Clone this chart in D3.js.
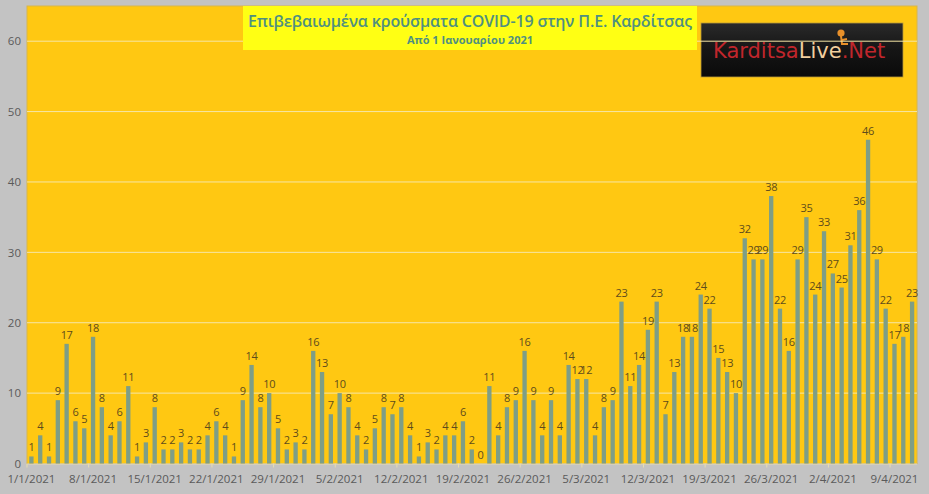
<!DOCTYPE html>
<html>
<head>
<meta charset="utf-8">
<script src="https://cdn.jsdelivr.net/npm/d3@7"></script>
<style>
  body { margin: 0; background: #c3c3c3; }
  svg { display: block; }
</style>
</head>
<body>
<svg id="canvas" width="929" height="494"></svg>
<script>
// data
var title = "Επιβεβαιωμένα κρούσματα COVID-19 στην Π.Ε. Καρδίτσας";
var subtitle = "Από 1 Ιανουαρίου 2021";
var startDate = "2021-01-01";
var jan = [1,4,1,9,17,6,5,18,8,4,6,11,1,3,8,2,2,3,2,2,4,6,4,1,9,14,8,10,5,2,3];
var feb = [2,16,13,7,10,8,4,2,5,8,7,8,4,1,3,2,4,4,6,2,0,11,4,8,9,16,9,4];
var mar = [9,4,14,12,12,4,8,9,23,11,14,19,23,7,13,18,18,24,22,15,13,10,32,29,29,38,22,16,29,35,24];
var apr = [33,27,25,31,36,46,29,22,17,18,23];
var yTicks = [0,10,20,30,40,50,60];

var cases = jan.concat(feb, mar, apr);
var parse = d3.timeParse("%Y-%m-%d");
var fmt = function(d){ return d.getDate() + "/" + (d.getMonth()+1) + "/" + d.getFullYear(); };
var days = cases.map(function(v,i){ return d3.timeDay.offset(parse(startDate), i); });

var canvas_width = 929, canvas_height = 494;
var plot = { left: 27, right: 916.5, top: 6, bottom: 463.5 };

var svg = d3.select('#canvas');

// ************************************************************************************** //
// Scales

var xScale = d3.scaleBand().domain(days).range([plot.left, plot.right]).paddingInner(0.51).paddingOuter(0.255);
var yScale = d3.scaleLinear().domain([0,65]).range([plot.bottom, plot.top]);

// plot area
svg.append('rect').attr('x', plot.left).attr('y', plot.top)
  .attr('width', 890).attr('height', plot.bottom - plot.top)
  .attr('fill', '#ffc812').attr('stroke', '#d8b64c').attr('stroke-width', 1);

// ************************************************************************************** //
// Logo

var logo = svg.append('g').attr('transform', 'translate(701,23)');
var grad = svg.append('defs').append('linearGradient').attr('id', 'logoGrad')
  .attr('x1', 0).attr('y1', 0).attr('x2', 0).attr('y2', 1);
grad.append('stop').attr('offset', '0%').attr('stop-color', '#2a2a2a');
grad.append('stop').attr('offset', '50%').attr('stop-color', '#151515');
grad.append('stop').attr('offset', '100%').attr('stop-color', '#0a0a0a');
logo.append('rect').attr('width', 202).attr('height', 54).attr('fill', 'url(#logoGrad)')
  .attr('stroke', '#b89a3a').attr('stroke-width', 0.8);
var lt = logo.append('text').attr('x', 12).attr('y', 35)
  .style('font-family', '"DejaVu Sans", sans-serif').style('font-size', '21px');
lt.append('tspan').attr('fill', '#c0262c').text('Karditsa');
lt.append('tspan').attr('fill', '#f2cf9e').text('Live');
lt.append('tspan').attr('fill', '#c0262c').text('.Net');
// little figure
logo.append('circle').attr('cx', 140).attr('cy', 10).attr('r', 3.6).attr('fill', '#e8902a');
logo.append('path').attr('d', 'M140,13 L141,21 L147,21 M141,17 L146,16')
  .attr('stroke', '#e8902a').attr('stroke-width', 2).attr('fill', 'none');

// ************************************************************************************** //
// Grid + axes

svg.append('g').selectAll('line').data(yTicks.slice(1)).enter().append('line')
  .attr('x1', plot.left).attr('x2', plot.left + 890)
  .attr('y1', function(d){ return yScale(d); }).attr('y2', function(d){ return yScale(d); })
  .attr('stroke', '#f6e6a6').attr('stroke-width', 1);

var yAxis = svg.append('g').attr('transform', 'translate(' + plot.left + ',0)')
  .call(d3.axisLeft(yScale).tickValues(yTicks).tickSize(0).tickPadding(6));
yAxis.select('.domain').remove();
yAxis.selectAll('text').style('font-family', '"Open Sans", sans-serif').style('font-size', '11.5px').attr('fill', '#5a5a5a');

var tickDays = days.filter(function(d,i){ return i % 7 === 0; });
var xAxis = svg.append('g').attr('transform', 'translate(0,' + plot.bottom + ')')
  .call(d3.axisBottom(xScale).tickValues(tickDays).tickFormat(fmt).tickSize(4).tickPadding(7).tickSizeOuter(0));
xAxis.select('.domain').attr('stroke', '#e8dcb0');
xAxis.selectAll('.tick line').attr('x1', -xScale.step()/2).attr('x2', -xScale.step()/2).attr('stroke', '#e8dcb0');
xAxis.selectAll('text').style('font-family', '"Open Sans", sans-serif').style('font-size', '11.5px').attr('fill', '#5a5a5a');

// ************************************************************************************** //
// Bars

svg.append('g').selectAll('rect').data(cases).enter().append('rect')
  .attr('x', function(d,i){ return xScale(days[i]); })
  .attr('width', xScale.bandwidth())
  .attr('y', function(d){ return yScale(d); })
  .attr('height', function(d){ return yScale(0) - yScale(d); })
  .attr('fill', '#7e9e86');

svg.append('g').selectAll('text').data(cases).enter().append('text')
  .attr('x', function(d,i){ return xScale(days[i]) + xScale.bandwidth()/2; })
  .attr('y', function(d){ return yScale(d) - 5; })
  .attr('text-anchor', 'middle')
  .style('font-family', '"Open Sans", sans-serif').style('font-size', '11px').style('letter-spacing', '-0.3px')
  .attr('fill', '#5e4c1c')
  .text(function(d){ return d; });

// ************************************************************************************** //
// Title

svg.append('rect').attr('x', 243).attr('y', 6).attr('width', 454).attr('height', 44).attr('fill', '#ffff14');
svg.append('text').attr('x', 470).attr('y', 27).attr('text-anchor', 'middle')
  .style('font-family', '"Open Sans", sans-serif').style('font-size', '16px').style('font-weight', 600)
  .attr('textLength', 444).attr('fill', '#4f8f80').text(title);
svg.append('text').attr('x', 470).attr('y', 44).attr('text-anchor', 'middle')
  .style('font-family', '"Open Sans", sans-serif').style('font-size', '11px').style('font-weight', 'bold')
  .attr('fill', '#4f8f80').text(subtitle);
</script>
</body>
</html>
